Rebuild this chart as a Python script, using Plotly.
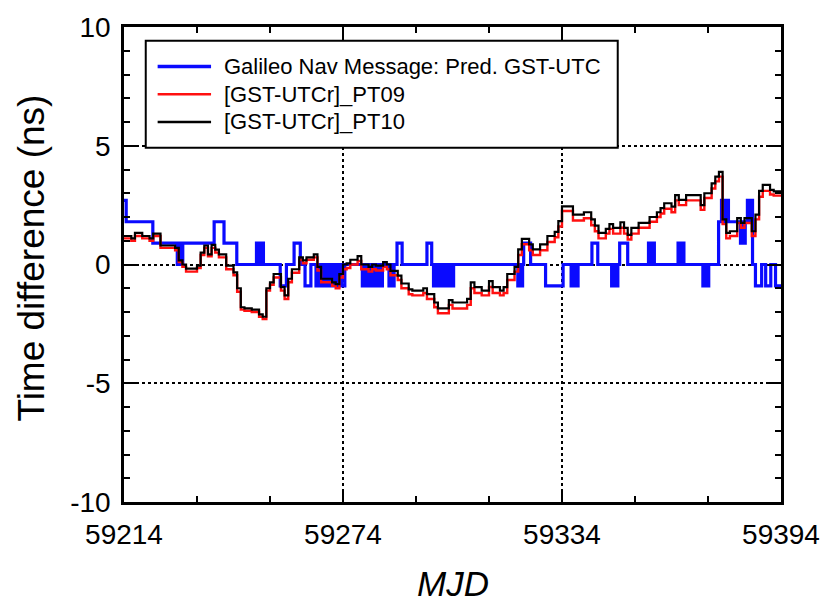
import plotly.graph_objects as go

# ---- daily UTCr solutions (MJD epochs shared by both PT series) ----
utcr_mjd = [
    59214, 59216, 59217, 59219, 59221, 59222, 59224, 59228, 59229, 59230,
    59231, 59234, 59235, 59236, 59237, 59238, 59239, 59240, 59242, 59244,
    59245, 59246, 59247, 59249, 59251, 59252, 59253, 59254, 59255, 59257,
    59258, 59259, 59260, 59262, 59263, 59264, 59266, 59267, 59268, 59271,
    59272, 59273, 59274, 59275, 59276, 59278, 59279, 59281, 59282, 59283,
    59285, 59286, 59287, 59289, 59290, 59292, 59293, 59296, 59297, 59299,
    59300, 59303, 59304, 59308, 59309, 59310, 59312, 59314, 59315, 59317,
    59318, 59319, 59321, 59322, 59323, 59325, 59326, 59328, 59330, 59332,
    59333, 59334, 59337, 59340, 59342, 59343, 59344, 59346, 59347, 59348,
    59350, 59351, 59352, 59353, 59355, 59358, 59360, 59361, 59362, 59364,
    59365, 59366, 59368, 59372, 59373, 59375, 59376, 59377, 59378, 59379,
    59380, 59382, 59383, 59384, 59386, 59387, 59388, 59389, 59391, 59392,
    59394,
]

# [GST-UTCr]_PT10 (ns)
pt10_ns = [
    1.2, 1.1, 1.33, 1.2, 1.1, 1.3, 0.8, 0.7, 0.17, 0.0,
    -0.17, -0.05, 0.5, 0.8, 0.43, 0.83, 0.63, 0.43, -0.05, -0.33,
    -1.0, -1.8, -1.85, -1.9, -2.1, -2.2, -1.0, -0.75, -0.4, -0.95,
    -1.3, -0.6, -0.2, 0.3, 0.17, 0.3, 0.43, -0.1, -0.6, -0.75,
    -0.83, -0.4, 0.0, 0.05, 0.2, 0.35, 0.0, -0.1, 0.0, -0.05,
    0.1, 0.0, -0.27, -0.47, -0.8, -1.05, -1.1, -1.0, -1.25, -1.6,
    -1.85, -1.5, -1.6, -1.45, -0.75, -0.95, -1.1, -0.7, -0.95, -1.1,
    -0.95, -0.4, -0.1, 0.64, 1.08, 0.85, 0.64, 0.85, 1.2, 1.37,
    1.83, 2.45, 2.1, 2.2, 1.9, 1.64, 1.33, 1.5, 1.7, 1.54,
    1.78, 1.54, 1.25, 1.54, 1.75, 2.0, 2.2, 2.37, 2.58, 2.44,
    2.92, 2.72, 2.92, 2.5, 3.0, 3.42, 3.7, 3.9, 1.9, 1.33,
    1.4, 1.95, 1.75, 1.95, 1.4, 2.1, 3.1, 3.35, 3.14, 3.08,
    3.08,
]

# [GST-UTCr]_PT09 (ns)
pt09_ns = [
    1.1, 1.0, 1.2, 1.1, 1.0, 1.2, 0.7, 0.6, 0.1, -0.1,
    -0.3, -0.15, 0.4, 0.7, 0.35, 0.7, 0.5, 0.3, -0.2, -0.45,
    -1.15, -1.9, -1.95, -2.0, -2.2, -2.3, -1.1, -0.85, -0.55, -1.1,
    -1.45, -0.75, -0.35, 0.2, 0.05, 0.2, 0.3, -0.25, -0.75, -0.9,
    -1.0, -0.55, -0.2, -0.15, 0.0, 0.15, -0.2, -0.3, -0.2, -0.25,
    -0.1, -0.2, -0.45, -0.65, -1.0, -1.25, -1.3, -1.2, -1.45, -1.8,
    -2.05, -1.7, -1.85, -1.7, -1.0, -1.2, -1.3, -0.95, -1.2, -1.3,
    -1.2, -0.65, -0.3, 0.4, 0.85, 0.6, 0.4, 0.6, 0.95, 1.15,
    1.6, 2.25, 1.85, 1.95, 1.65, 1.4, 1.1, 1.3, 1.5, 1.3,
    1.55, 1.3, 1.05, 1.3, 1.55, 1.8, 2.0, 2.15, 2.35, 2.2,
    2.7, 2.5, 2.7, 2.3, 2.8, 3.2, 3.5, 3.7, 1.7, 1.1,
    1.2, 1.75, 1.55, 1.75, 1.2, 1.9, 2.85, 3.1, 2.95, 2.9,
    2.9,
]

# ---- Galileo navigation message: predicted GST-UTC (ns), step changes ----
nav_mjd = [
    59214.0, 59214.6, 59221.9,
    59228.6, 59228.9, 59229.2, 59229.5, 59229.8, 59230.1,
    59238.7, 59241.4, 59244.9,
    59250.3, 59250.7, 59251.0, 59251.4, 59251.7, 59252.2,
    59256.8, 59258.5, 59260.6, 59262.3, 59263.6, 59265.2,
    59266.6, 59267.0, 59267.3, 59267.7, 59268.0, 59268.4, 59268.8, 59269.2,
    59269.6, 59270.0, 59270.4, 59270.8, 59271.2, 59271.6, 59272.0, 59272.4,
    59272.8, 59273.2, 59273.6, 59274.5,
    59279.3, 59279.7, 59280.0, 59280.4, 59280.8, 59281.0, 59281.8, 59282.2,
    59282.5, 59282.9, 59283.6, 59284.0, 59284.4, 59284.8,
    59286.6, 59287.0, 59287.4, 59288.0,
    59288.8, 59290.2, 59297.0, 59298.3,
    59298.8, 59299.2, 59299.6, 59300.2,
    59301.0, 59301.4, 59301.8, 59302.4,
    59302.9, 59303.3, 59303.7, 59304.3,
    59321.9, 59322.3, 59322.7, 59323.2,
    59323.5, 59325.4, 59329.5, 59334.3,
    59336.5, 59336.9, 59337.3, 59337.7, 59338.0, 59338.4,
    59342.2, 59343.8,
    59347.6, 59348.0, 59348.4, 59348.8, 59349.0, 59349.3,
    59349.8, 59352.0,
    59357.7, 59358.1, 59358.5, 59358.9, 59359.0, 59359.3,
    59365.8, 59366.2, 59366.6, 59367.0, 59367.1, 59367.4,
    59372.6, 59373.0, 59373.4, 59373.8, 59373.9, 59374.2,
    59376.9,
    59377.7, 59378.1, 59378.5, 59378.9, 59379.2, 59379.6,
    59382.9, 59383.3, 59383.7, 59384.2,
    59384.8, 59385.2, 59385.6, 59386.2,
    59387.0, 59388.7, 59389.8, 59391.2, 59392.5, 59394.0,
]
nav_ns = [
    2.7, 1.8, 0.9,
    0.0, 0.9, 0.0, 0.9, 0.0, 0.9,
    1.8, 0.9, 0.0,
    0.9, 0.0, 0.9, 0.0, 0.9, 0.0,
    -0.9, 0.0, 0.9, 0.0, -0.9, 0.0,
    -0.9, 0.0, -0.9, 0.0, -0.9, 0.0, -0.9, 0.0,
    -0.9, 0.0, -0.9, 0.0, -0.9, 0.0, -0.9, 0.0,
    -0.9, 0.0, -0.9, 0.0,
    -0.9, 0.0, -0.9, 0.0, -0.9, 0.0, -0.9, 0.0,
    -0.9, 0.0, -0.9, 0.0, -0.9, 0.0,
    -0.9, 0.0, -0.9, 0.0,
    0.9, 0.0, 0.9, 0.0,
    -0.9, 0.0, -0.9, 0.0,
    -0.9, 0.0, -0.9, 0.0,
    -0.9, 0.0, -0.9, 0.0,
    -0.9, 0.0, -0.9, 0.0,
    0.9, 0.0, -0.9, 0.0,
    -0.9, 0.0, -0.9, 0.0, -0.9, 0.0,
    0.9, 0.0,
    -0.9, 0.0, -0.9, 0.0, -0.9, 0.0,
    0.9, 0.0,
    0.9, 0.0, 0.9, 0.0, 0.9, 0.0,
    0.9, 0.0, 0.9, 0.0, 0.9, 0.0,
    -0.9, 0.0, -0.9, 0.0, -0.9, 0.0,
    1.8,
    2.7, 1.8, 2.7, 1.8, 2.7, 1.8,
    0.9, 1.8, 0.9, 1.8,
    2.7, 1.8, 2.7, 0.0,
    -0.9, 0.0, -0.9, 0.0, -0.9, -0.9,
]

x_ticks = [59214, 59274, 59334, 59394]
y_ticks = [-10, -5, 0, 5, 10]

FONT = "Liberation Sans, Arial, sans-serif"

series = [
    dict(x=nav_mjd, y=nav_ns, color="#0a0aff", width=3.2,
         name="Galileo Nav Message: Pred. GST-UTC"),
    dict(x=utcr_mjd, y=pt09_ns, color="#ff1010", width=2.4,
         name="[GST-UTCr]_PT09"),
    dict(x=utcr_mjd, y=pt10_ns, color="#000000", width=2.2,
         name="[GST-UTCr]_PT10"),
]

fig = go.Figure()
for s in series:
    fig.add_trace(go.Scatter(
        x=s["x"], y=s["y"], mode="lines", line_shape="hv",
        line=dict(color=s["color"], width=s["width"]),
        name=s["name"], showlegend=False,
    ))

axis_common = dict(
    showline=True, linecolor="black", linewidth=2.5, mirror="ticks",
    ticks="inside", ticklen=12, tickwidth=2, tickcolor="black",
    showgrid=True, gridcolor="black", gridwidth=1.5, griddash="dot",
    zeroline=False,
    tickfont=dict(family=FONT, size=28, color="black"),
)

fig.update_xaxes(
    range=[59214, 59394], tickvals=x_ticks, ticktext=[str(v) for v in x_ticks],
    minor=dict(dtick=20, tick0=59214, ticks="inside", ticklen=6,
               tickwidth=2, tickcolor="black", showgrid=False),
    ticklabelstandoff=6,
    **axis_common,
)
fig.update_yaxes(
    range=[-10, 10], tickvals=y_ticks, ticktext=[str(v) for v in y_ticks],
    minor=dict(dtick=1, tick0=0, ticks="inside", ticklen=6,
               tickwidth=2, tickcolor="black", showgrid=False),
    ticklabelstandoff=5,
    **axis_common,
)

# Legend box drawn in paper coordinates: frame, line keys and labels
legend_left, legend_right = 0.0331, 0.7515
legend_top, legend_bottom = 0.9708, 0.7458
key_x0, key_x1, label_x = 0.0512, 0.1325, 0.1491
row_y = [0.9167, 0.8583, 0.8000]
key_width = [3.5, 2.5, 2.5]

shapes = [dict(type="rect", xref="paper", yref="paper", layer="above",
               x0=legend_left, x1=legend_right, y0=legend_bottom, y1=legend_top,
               fillcolor="white", line=dict(color="black", width=2))]
annotations = []
for s, ry, kw in zip(series, row_y, key_width):
    shapes.append(dict(type="line", xref="paper", yref="paper", layer="above",
                       x0=key_x0, x1=key_x1, y0=ry, y1=ry,
                       line=dict(color=s["color"], width=kw)))
    annotations.append(dict(text=s["name"], xref="paper", yref="paper",
                            x=label_x, y=ry, xanchor="left", yanchor="middle",
                            showarrow=False,
                            font=dict(family=FONT, size=22, color="black")))

annotations += [
    dict(text="Time difference (ns)", textangle=-90,
         xref="paper", yref="paper", x=-0.140, y=0.5125,
         xanchor="center", yanchor="middle", showarrow=False,
         font=dict(family=FONT, size=37, color="black")),
    dict(text="<i>MJD</i>",
         xref="paper", yref="paper", x=0.5, y=-0.171,
         xanchor="center", yanchor="middle", showarrow=False,
         font=dict(family=FONT, size=35, color="black")),
]

fig.update_layout(
    width=832, height=603,
    margin=dict(l=124, r=44, t=22, b=101),
    paper_bgcolor="white", plot_bgcolor="white",
    showlegend=False,
    shapes=shapes,
    annotations=annotations,
)

fig.write_html("out.html")
